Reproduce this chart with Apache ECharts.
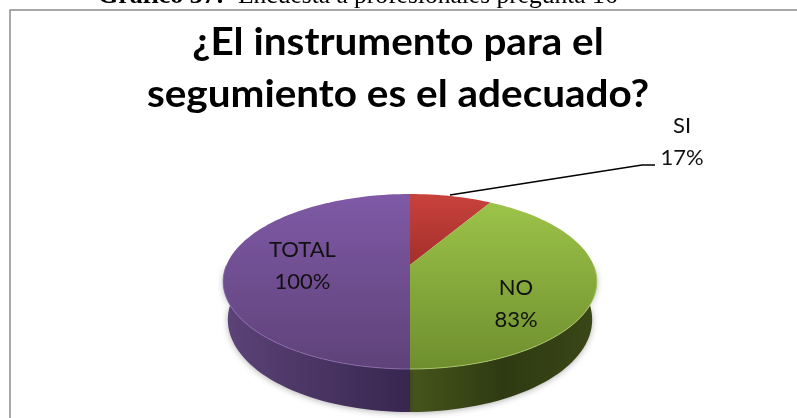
<!DOCTYPE html>
<html>
<head>
<meta charset="utf-8">
<style>html,body{margin:0;padding:0;background:#fff;overflow:hidden}#chart{width:797px;height:418px}</style>
<script src="https://cdn.jsdelivr.net/npm/echarts@6/dist/echarts.min.js"></script>
</head>
<body>
<div id="chart"></div>
<script>
// Survey answers
const categories = ['SI', 'NO', 'TOTAL'];
const values = [17, 83, 100];
const percentLabels = ['17%', '83%', '100%'];

// Per-slice paint
const topColors = [['#c9423c', '#a32f2b'], ['#9cc349', '#6e8e2e'], ['#7f59a6', '#5f4279']];
const sideColors = [['#7a2320', '#5a1816'], ['#46561c', '#2f3a12', '#3a4717'], ['#5c4378', '#38264f']];
const rimColors = ['#d96a64', '#b4d070', '#8d6cb0'];
const labelSpots = [[682, 142], [516, 303.5], [302.5, 265.5]];

// Perspective disc: apex of the slices, horizontal reach, tilt strength
const cx = 410, cy = 265, reachX = 183.5, reachY = 84.4, tilt = 0.1886;
const sumAll = values.reduce((a, b) => a + b, 0);

function rimPoint(deg) {
  const r = deg * Math.PI / 180, u = Math.sin(r), v = Math.cos(r), w = 1 + tilt * v;
  return [cx + reachX * u / w, cy - reachY * v / w, v];
}
function lowerPoint(deg) {
  const p = rimPoint(deg);
  return [cx + (p[0] - cx) * 0.975, p[1] + 37 - 6 * p[2]];
}
function arc(from, to, fn) {
  const pts = [], n = Math.max(2, Math.ceil((to - from) / 2));
  for (let i = 0; i <= n; i++) pts.push(fn(from + (to - from) * i / n).slice(0, 2));
  return pts;
}
const starts = [];
values.reduce((acc, v, i) => { starts[i] = acc; return acc + v / sumAll * 360; }, 0);

function bounds(i) { return [starts[i], starts[i] + values[i] / sumAll * 360]; }
function grad(stops, horizontal) {
  return new echarts.graphic.LinearGradient(0, 0, horizontal ? 1 : 0, horizontal ? 0 : 1,
    stops.map((c, k) => ({ offset: k / (stops.length - 1), color: c })), false);
}

function renderSide(params, api) {
  const i = api.value(0), b = bounds(i);
  const from = Math.max(b[0], 90), to = Math.min(b[1], 270);
  if (to <= from) return { type: 'group', children: [] };
  const upper = arc(from, to, rimPoint), lower = arc(from, to, lowerPoint).reverse();
  return {
    type: 'polygon',
    shape: { points: upper.concat(lower) },
    style: { fill: grad(sideColors[i], true), shadowBlur: 6, shadowColor: 'rgba(0,0,0,0.3)', shadowOffsetY: 1 }
  };
}

function renderTop(params, api) {
  const i = api.value(0), b = bounds(i);
  const pts = [[cx, cy]].concat(arc(b[0], b[1], rimPoint));
  const children = [{
    type: 'polygon',
    shape: { points: pts },
    style: { fill: grad(topColors[i], false) }
  }];
  const from = Math.max(b[0], 90), to = Math.min(b[1], 270);
  if (to > from) children.push({
    type: 'polyline',
    shape: { points: arc(from, to, rimPoint) },
    style: { fill: null, stroke: rimColors[i], lineWidth: 1, opacity: 0.8 }
  });
  return { type: 'group', children };
}

function renderLabel(params, api) {
  const i = api.value(0), spot = labelSpots[i];
  return {
    type: 'text',
    style: {
      x: spot[0], y: spot[1],
      text: categories[i] + '\n' + percentLabels[i],
      font: '400 22px Lato, "Open Sans", sans-serif',
      lineHeight: 32, fill: '#111', align: 'center', verticalAlign: 'middle'
    }
  };
}

const rows = values.map((v, i) => [i, v]);
const chart = echarts.init(document.getElementById('chart'), null, { renderer: 'canvas' });

function titleLine(text, y) {
  return {
    type: 'text', z: 6, x: 398, y: y, scaleX: 1.065,
    style: { x: 0, y: 0, text: text, font: 'bold 38px Lato, sans-serif', fill: '#000', align: 'center', verticalAlign: 'middle' }
  };
}

chart.setOption({
  animation: false,
  backgroundColor: '#fff',
  series: [
    { type: 'custom', coordinateSystem: 'none', data: rows, renderItem: renderSide, z: 2 },
    { type: 'custom', coordinateSystem: 'none', data: rows, renderItem: renderTop, z: 3 },
    { type: 'custom', coordinateSystem: 'none', data: rows, renderItem: renderLabel, z: 5 }
  ],
  graphic: [
    // chart frame
    { type: 'rect', z: 1, shape: { x: 10, y: 10, width: 800, height: 420 }, style: { fill: '#fff', stroke: '#8c8c8c', lineWidth: 1.5 } },
    // document caption above the frame, cut by the page edge
    { type: 'text', z: 6, style: { x: 98, y: -4, text: 'Gráfico 37:', font: 'bold 26px "Liberation Serif", serif', fill: '#000', verticalAlign: 'middle' } },
    { type: 'text', z: 6, style: { x: 238, y: -4, text: 'Encuesta a profesionales pregunta 16', font: '25.5px "Liberation Serif", serif', fill: '#000', verticalAlign: 'middle' } },
    // chart title
    titleLine('¿El instrumento para el', 43),
    titleLine('segumiento es el adecuado?', 95),
    // leader from the SI slice to its label
    { type: 'polyline', z: 4, shape: { points: [[450, 195], [642, 165], [655, 165]] }, style: { fill: null, stroke: '#000', lineWidth: 1.5 } }
  ]
});
</script>
</body>
</html>
